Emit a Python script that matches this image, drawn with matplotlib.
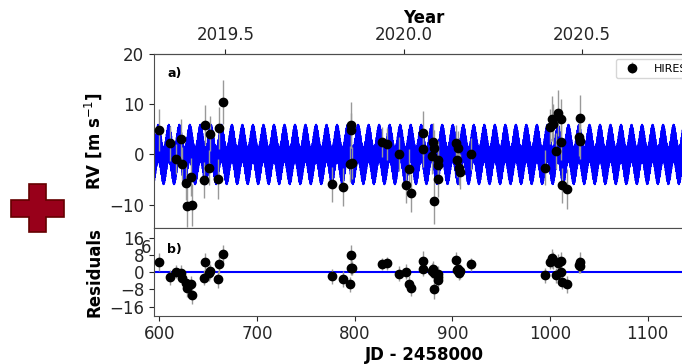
import numpy as np
import matplotlib
matplotlib.use("Agg")
import matplotlib.pyplot as plt
from matplotlib.patches import Polygon

# HIRES radial velocities, time in JD - 2458000
t = [599.5, 610.5, 617.0, 622.0, 623.0, 627.0, 628.0, 632.5, 633.0, 645.5,
     647.0, 650.5, 651.5, 659.5, 660.5, 665.0,
     776.5, 787.5, 795.2, 795.8, 796.6, 797.5, 827.5, 832.5, 845.5, 852.5,
     855.5, 857.5, 869.5, 870.0, 878.7, 879.7, 881.1, 881.1, 884.9, 885.5,
     884.9, 903.6, 904.3, 906.0, 907.0, 907.7, 919.0,
     994.7, 999.9, 1002.2, 1003.2, 1006.0, 1007.7, 1010.8, 1011.1, 1012.5,
     1016.9, 1029.9, 1030.6, 1030.9]
rv = [4.9, 2.2, -0.9, 3.1, -1.8, -5.6, -10.2, -4.5, -10.1, -5.1,
      5.9, -2.6, 4.1, -4.9, 5.2, 10.4,
      -5.9, -6.5, -1.9, 5.8, 4.8, -1.7, 2.5, 2.0, 0.1, -6.0,
      -2.8, -7.6, 1.0, 4.2, -0.3, 2.5, 1.3, -9.3, -1.1, -2.1,
      -4.9, 2.2, -1.1, 1.2, -2.6, -3.4, 0.1,
      -2.6, 5.5, 7.1, 6.1, 0.7, 8.3, 7.0, 2.4, -6.1,
      -6.9, 3.4, 2.6, 7.3]
err = [4.2, 3.5, 3.0, 4.0, 3.2, 3.5, 4.2, 3.8, 4.2, 3.6,
       4.0, 3.4, 3.5, 4.0, 4.2, 4.4,
       3.5, 3.8, 3.5, 4.6, 3.5, 3.2, 3.0, 3.2, 3.4, 3.6,
       3.8, 3.8, 3.5, 4.5, 3.5, 3.8, 3.5, 4.5, 3.8, 3.5,
       3.5, 3.6, 3.4, 3.4, 3.5, 3.5, 3.2,
       3.5, 3.5, 4.5, 4.0, 3.5, 4.6, 4.0, 3.5, 3.5,
       4.0, 3.8, 3.5, 4.5]
resid = [4.9, -2.3, 0.3, -0.5, -2.5, -5.2, -7.5, -5.6, -10.6, -2.5,
         5.0, -0.5, 0.6, -3.3, 3.7, 8.4,
         -1.9, -3.3, -5.6, 8.1, 2.2, 1.9, 3.9, 4.2, -0.6, 0.3,
         -5.6, -7.5, 1.7, 5.4, 0.7, 1.5, -0.5, -7.8, -0.9, -2.0,
         -3.6, 5.7, 1.1, 1.4, -0.2, 0.5, 3.7,
         -1.3, 5.0, 6.5, 5.7, -1.3, 4.2, 5.4, 0.3, -4.4,
         -5.5, 3.4, 3.0, 5.0]

# two-planet model parameters (m/s, days)
k_short, p_short, tc_short = 3.7, 0.57, 0.1
k_long, p_long, tc_long = 2.3, 10.77, 598.8

year_ticks = [2019.5, 2020.0, 2020.5]


def jd_to_year(x):
    return 2000.0 + (np.asarray(x) + 2458000.0 - 2451545.0) / 365.25


def year_to_jd(y):
    return (np.asarray(y) - 2000.0) * 365.25 + 2451545.0 - 2458000.0


W, H = 682, 364
fig = plt.figure(figsize=(W / 100, H / 100), dpi=100)
plt.rcParams['font.size'] = 12

x0, x1 = 154 / W, 694 / W
ax1 = fig.add_axes([x0, 1 - 228.3 / H, x1 - x0, (228.3 - 54) / H])
ax2 = fig.add_axes([x0, 1 - 315.7 / H, x1 - x0, (315.7 - 228.3) / H], sharex=ax1)

tm = np.linspace(590, 1160, 60000)
model = (k_short * np.cos(2 * np.pi * (tm - tc_short) / p_short)
         + k_long * np.cos(2 * np.pi * (tm - tc_long) / p_long))
ax1.plot(tm, model, color='blue', lw=1.0, zorder=1)
ax1.errorbar(t, rv, yerr=err, fmt='o', color='black', ecolor='0.6',
             elinewidth=1, markersize=6, zorder=3, label='HIRES')
ax1.set_ylim(-14.7, 20)
ax1.set_xlim(594.4, 1147.4)
ax1.set_yticks([-10, 0, 10, 20])
ax1.set_ylabel('RV [m s$^{-1}$]', fontweight='bold')
ax1.tick_params(axis='x', labelbottom=False, bottom=False)
ax1.text(0.025, 0.87, 'a)', transform=ax1.transAxes, fontsize=9, fontweight='bold')
ax1.legend(loc='upper left', bbox_to_anchor=(0.8556, 0.97), borderaxespad=0,
           fontsize=8, numpoints=1, handletextpad=1.0)

top = ax1.secondary_xaxis('top', functions=(jd_to_year, year_to_jd))
top.set_xticks(year_ticks)
top.set_xticklabels(['2019.5', '2020.0', '2020.5'])
top.set_xlabel('Year', fontweight='bold', labelpad=2)

ax2.axhline(0, color='blue', lw=1.5, zorder=1)
ax2.errorbar(t, resid, yerr=err, fmt='o', color='black', ecolor='0.6',
             elinewidth=1, markersize=6, zorder=3)
ax2.set_ylim(-20.3, 20.6)
ax2.set_yticks([-16, -8, 0, 8, 16])
ax2.set_xticks([600, 700, 800, 900, 1000, 1100])
ax2.set_ylabel('Residuals', fontweight='bold')
ax2.set_xlabel('JD - 2458000', fontweight='bold', labelpad=2)
ax2.text(0.025, 0.72, 'b)', transform=ax2.transAxes, fontsize=9, fontweight='bold')

for ax in (ax1, ax2, top):
    ax.tick_params(colors='0.15')
for ax in (ax1, ax2):
    for s in ax.spines.values():
        s.set_color('0.3')
top.spines['top'].set_color('0.3')

# stray overlapping tick label
fig.text(141 / W, 1 - 253 / H, '6', fontsize=12, color='0.15', zorder=-1)

# red cross on the left
cx = [10.7, 29.3, 45.7, 64.3]
cy = [184.3, 200.3, 217.0, 232.3]
pts = [(cx[1], cy[0]), (cx[2], cy[0]), (cx[2], cy[1]), (cx[3], cy[1]),
       (cx[3], cy[2]), (cx[2], cy[2]), (cx[2], cy[3]), (cx[1], cy[3]),
       (cx[1], cy[2]), (cx[0], cy[2]), (cx[0], cy[1]), (cx[1], cy[1])]
pts = [(px / W, 1 - py / H) for px, py in pts]
fig.add_artist(Polygon(pts, closed=True, transform=fig.transFigure,
                       facecolor='#98001a', edgecolor='#650000', lw=1.2))

fig.savefig('out.png', dpi=100)
